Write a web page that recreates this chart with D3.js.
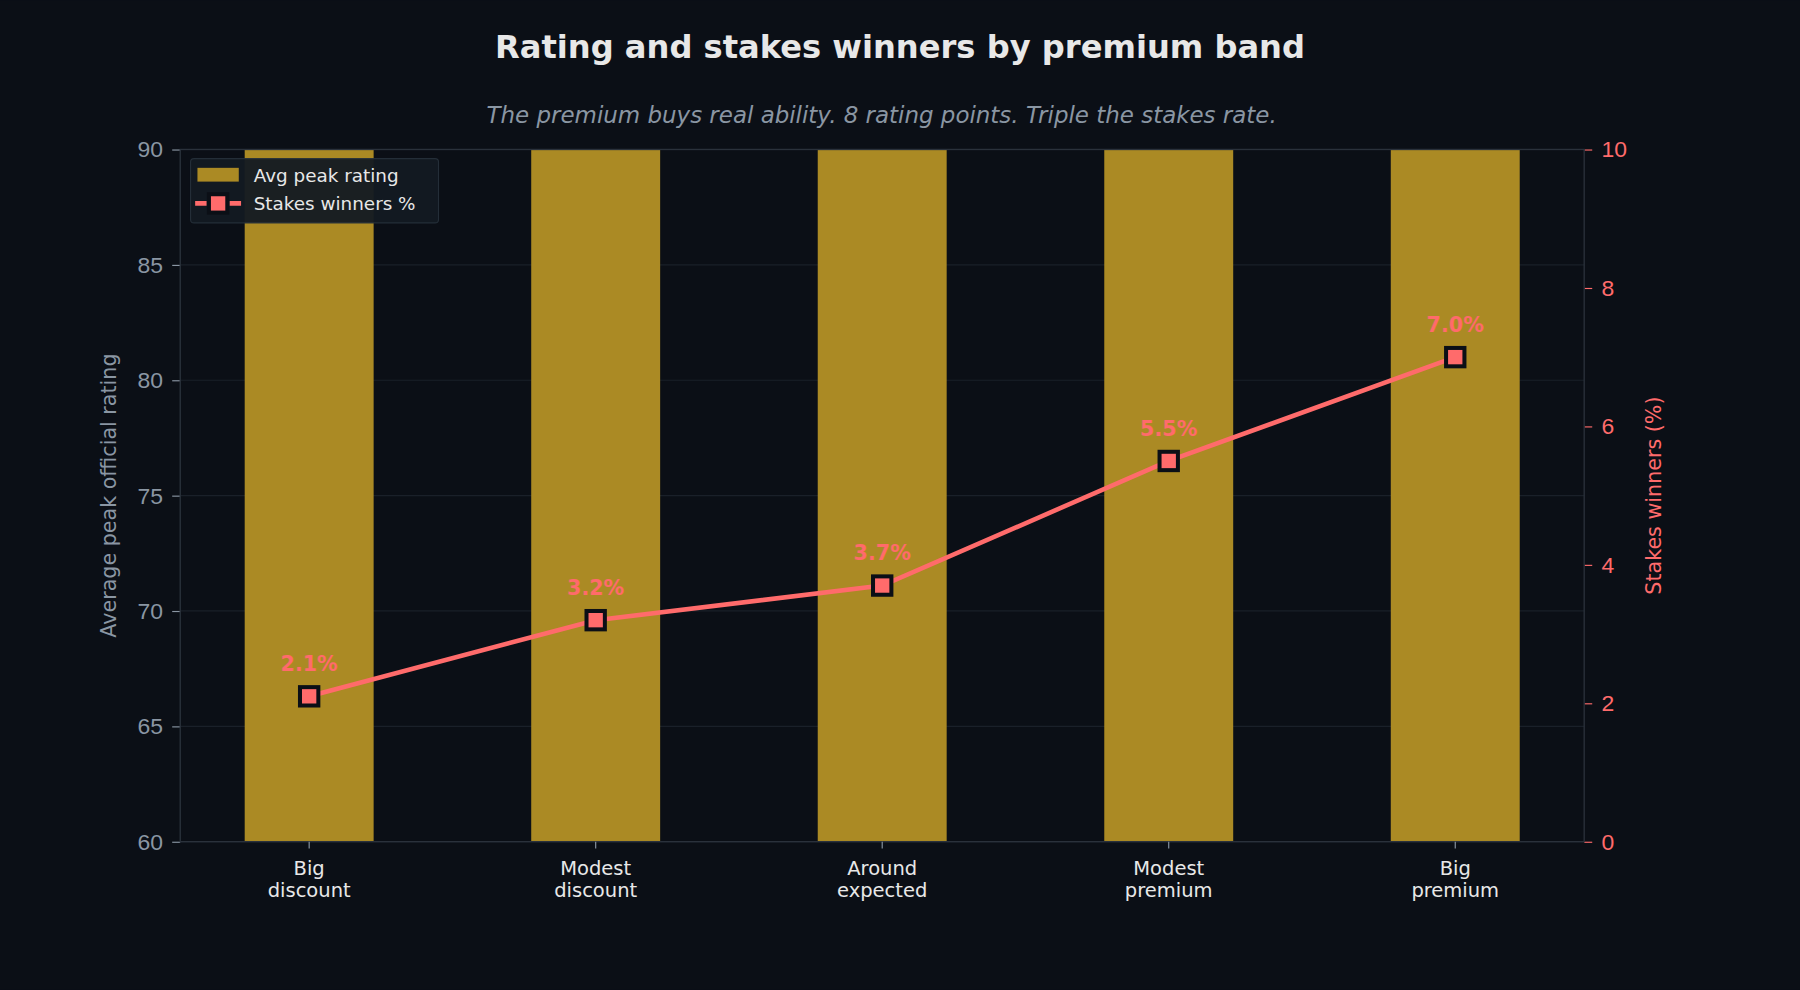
<!DOCTYPE html>
<html><head><meta charset="utf-8">
<script src="https://cdn.jsdelivr.net/npm/d3@7"></script>
<style>body{margin:0;background:#0b0f16;}svg{display:block;font-family:"DejaVu Sans",sans-serif;}</style>
</head><body>
<script>
// data
const bands = ['Big\ndiscount', 'Modest\ndiscount', 'Around\nexpected', 'Modest\npremium', 'Big\npremium'];
const avgRating = [95, 98, 100, 101, 103];   // bars run off the top of the axis
const stakesPct = [2.1, 3.2, 3.7, 5.5, 7.0];
const leftTicks = [60, 65, 70, 75, 80, 85, 90];
const rightTicks = [0, 2, 4, 6, 8, 10];

const W = 1568, H = 862;
const m = {l: 157, r: 1380, t: 130, b: 733};
const barCol = '#ab8a24', lineCol = '#ff6b6b', grid = '#1a2029';

const svg = d3.select('body').append('svg')
    .attr('width', 1800).attr('height', 990)
    .attr('viewBox', `0 0 ${W} ${H}`);
svg.append('rect').attr('width', W).attr('height', H).attr('fill', '#0b0f16');

let x = d3.scaleLinear().domain([-0.45, 4.45]).range([m.l, m.r]);
let y = d3.scaleLinear().domain([60, 90]).range([m.b, m.t]);
let y2 = d3.scaleLinear().domain([0, 10]).range([m.b, m.t]);
const bw = x(0.225) - x(-0.225);

svg.append('text').attr('x', 784).attr('y', 50).attr('text-anchor', 'middle')
    .attr('fill', '#e8e8e8').attr('font-size', 28).attr('font-weight', 'bold')
    .text('Rating and stakes winners by premium band');
svg.append('text').attr('x', 768).attr('y', 107).attr('text-anchor', 'middle')
    .attr('fill', '#8a96a3').attr('font-size', 20).attr('font-style', 'italic')
    .text('The premium buys real ability. 8 rating points. Triple the stakes rate.');

// grid
svg.append('g').selectAll('line').data(leftTicks).enter().append('line')
    .attr('x1', m.l).attr('x2', m.r).attr('y1', d => y(d)).attr('y2', d => y(d))
    .attr('stroke', grid).attr('stroke-width', 1);

svg.append('defs').append('clipPath').attr('id', 'clip')
    .append('rect').attr('x', m.l).attr('y', m.t).attr('width', m.r - m.l).attr('height', m.b - m.t);

svg.append('g').attr('clip-path', 'url(#clip)').selectAll('rect').data(avgRating).enter().append('rect')
    .attr('x', (d, i) => x(i) - bw / 2).attr('width', bw)
    .attr('y', d => y(d)).attr('height', d => y(60) - y(d))
    .attr('fill', barCol);

// axes
let axL = svg.append('g').attr('transform', `translate(${m.l},0)`)
    .call(d3.axisLeft(y).tickValues(leftTicks).tickSize(7).tickPadding(8));
let axR = svg.append('g').attr('transform', `translate(${m.r},0)`)
    .call(d3.axisRight(y2).tickValues(rightTicks).tickSize(7).tickPadding(8));
axL.selectAll('text').attr('fill', '#8a96a3').attr('font-size', 20);
axL.selectAll('line').attr('stroke', '#8a96a3');
axR.selectAll('text').attr('fill', lineCol).attr('font-size', 20);
axR.selectAll('line').attr('stroke', lineCol);
svg.selectAll('.domain').remove();
svg.append('rect').attr('x', m.l).attr('y', m.t).attr('width', m.r - m.l).attr('height', m.b - m.t)
    .attr('fill', 'none').attr('stroke', '#2a313b').attr('stroke-width', 1.2);

// x labels
let xl = svg.append('g').selectAll('text').data(bands).enter().append('text')
    .attr('x', (d, i) => x(i)).attr('y', 762).attr('text-anchor', 'middle')
    .attr('fill', '#e8e8e8').attr('font-size', 17);
xl.each(function (d) {
    d.split('\n').forEach((s, k) => d3.select(this).append('tspan')
        .attr('x', d3.select(this).attr('x')).attr('dy', k ? 19 : 0).text(s));
});
svg.append('g').selectAll('line').data(bands).enter().append('line')
    .attr('x1', (d, i) => x(i)).attr('x2', (d, i) => x(i)).attr('y1', m.b).attr('y2', m.b + 6)
    .attr('stroke', '#8a96a3');

// axis titles
svg.append('text').attr('transform', `translate(101,${(m.t + m.b) / 2}) rotate(-90)`)
    .attr('text-anchor', 'middle').attr('fill', '#8a96a3').attr('font-size', 18)
    .text('Average peak official rating');
svg.append('text').attr('transform', `translate(1447,${(m.t + m.b) / 2}) rotate(-90)`)
    .attr('text-anchor', 'middle').attr('fill', lineCol).attr('font-size', 18)
    .text('Stakes winners (%)');

// line
svg.append('path').datum(stakesPct)
    .attr('d', d3.line().x((d, i) => x(i)).y(d => y2(d)))
    .attr('fill', 'none').attr('stroke', lineCol).attr('stroke-width', 4);
svg.append('g').selectAll('rect').data(stakesPct).enter().append('rect')
    .attr('x', (d, i) => x(i) - 8).attr('y', d => y2(d) - 8).attr('width', 16).attr('height', 16)
    .attr('fill', lineCol).attr('stroke', '#0b0f16').attr('stroke-width', 3.5);
svg.append('g').selectAll('text').data(stakesPct).enter().append('text')
    .attr('x', (d, i) => x(i)).attr('y', d => y2(d) - 22).attr('text-anchor', 'middle')
    .attr('fill', lineCol).attr('font-size', 18).attr('font-weight', 'bold')
    .text(d => d.toFixed(1) + '%');

// legend
let lg = svg.append('g');
lg.append('rect').attr('x', 166).attr('y', 138).attr('width', 216).attr('height', 56).attr('rx', 3)
    .attr('fill', '#131a22').attr('stroke', '#26303a').attr('opacity', 0.95);
lg.append('rect').attr('x', 172).attr('y', 146).attr('width', 36).attr('height', 12).attr('fill', barCol);
lg.append('line').attr('x1', 170).attr('x2', 210).attr('y1', 177).attr('y2', 177)
    .attr('stroke', lineCol).attr('stroke-width', 4).attr('stroke-dasharray', '10,20');
lg.append('rect').attr('x', 182).attr('y', 169).attr('width', 16).attr('height', 16)
    .attr('fill', lineCol).attr('stroke', '#0b0f16').attr('stroke-width', 3.5);
lg.append('text').attr('x', 221).attr('y', 158).attr('fill', '#e8e8e8').attr('font-size', 16).text('Avg peak rating');
lg.append('text').attr('x', 221).attr('y', 183).attr('fill', '#e8e8e8').attr('font-size', 16).text('Stakes winners %');
</script>
</body></html>
